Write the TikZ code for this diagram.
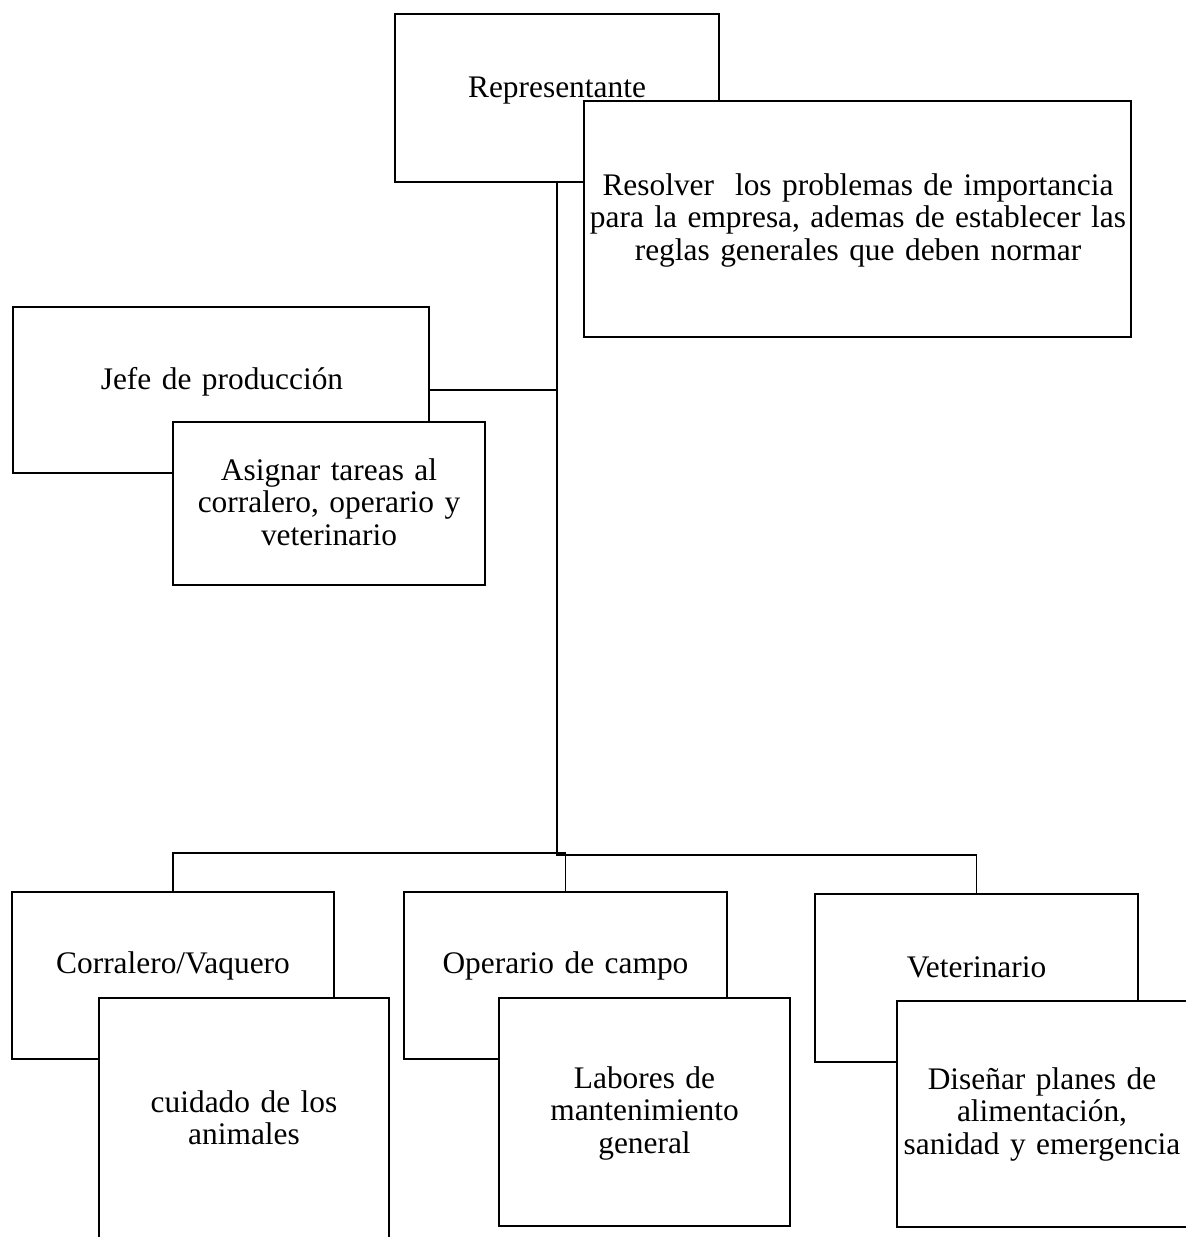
\documentclass[tikz,border=0pt]{standalone}
\usepackage{fontspec}
\setmainfont{Liberation Serif}
\begin{document}
\begin{tikzpicture}[x=0.5pt,y=-0.5pt,
  box/.style 2 args={draw=black, line width=1pt, fill=white, rectangle,
    inner sep=0pt, outer sep=0pt, minimum width=#1*0.5pt, minimum height=#2*0.5pt},
  conn/.style={draw=black, line width=0.55pt},
  txt/.style={inner sep=0pt, outer sep=0pt, align=center, anchor=base,
    text width=#1*0.5pt, font=\fontsize{15.7pt}{16.25pt}\selectfont}]
\useasboundingbox (0,0) rectangle (1185,1237);

% top level
\node[box={324}{168}] (rep) at (557,98) {};
\node[box={547}{236}] (res) at (857.5,219) {};
\node[txt=300] (reptxt) at (557,97) {Representante};
\node[txt=540] (restxt) at (858,195) {Resolver~ los problemas de importancia\\para la empresa, ademas de establecer las\\reglas generales que deben normar};

% jefe
\node[box={416}{166}] (jefe) at (221,390) {};
\node[box={312}{163}] (asig) at (329,503.5) {};
\node[txt=400] (jefetxt) at (222,389) {Jefe de producción};
\node[txt=310] (asigtxt) at (329,480) {Asignar tareas al\\corralero, operario y\\veterinario};

% bottom level
\node[box={322}{167}] (corr) at (173,975.5) {};
\node[box={290}{252}] (cuid) at (244,1124) {};
\node[txt=320] (corrtxt) at (173,973) {Corralero/Vaquero};
\node[txt=290] (cuidtxt) at (244,1112) {cuidado de los\\animales};

\node[box={323}{167}] (oper) at (565.5,975.5) {};
\node[box={291}{228}] (lab) at (644.5,1112) {};
\node[txt=320] (opertxt) at (565.5,973) {Operario de campo};
\node[txt=290] (labtxt) at (644.5,1088) {Labores de\\mantenimiento\\general};

\node[box={323}{168}] (vet) at (976.5,978) {};
\node[box={290}{226}] (dis) at (1042,1114) {};
\node[txt=320] (vettxt) at (976.5,977) {Veterinario};
\node[txt=300] (distxt) at (1042,1089) {Diseñar planes de\\alimentación,\\sanidad y emergencia};

% connectors
\coordinate (bus) at (557,855);
\coordinate (lbus) at (370,853);
\draw[conn] (rep.south) -- (rep.south |- bus) -| (vet.north);
\draw[conn] (jefe.east) -- (jefe.east -| rep.south);
\draw[conn] (corr.north) |- (lbus) -| (oper.north);
\end{tikzpicture}
\end{document}
